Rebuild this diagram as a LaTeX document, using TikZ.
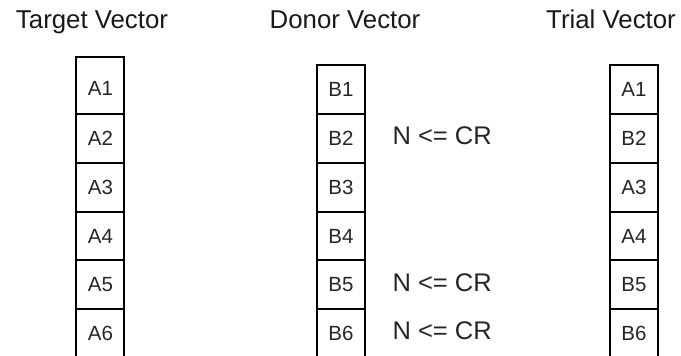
\documentclass[tikz,border=0pt]{standalone}
\usepackage{fontspec}
\setmainfont{Liberation Sans}
\begin{document}
\begin{tikzpicture}[x=1pt,y=-1pt,
  cell/.style={draw=black, line width=1.9pt, minimum width=48pt, minimum height=49pt,
    inner sep=0pt, font=\fontsize{20.5}{24}\selectfont, text=black!85},
  title/.style={anchor=base, font=\fontsize{25.8}{30}\selectfont, text=black!90},
  cond/.style={anchor=base west, font=\fontsize{25.5}{30}\selectfont, text=black!85}]
\useasboundingbox (0,0) rectangle (681,356);
\clip (0,0) rectangle (681,356);

% column headings
\node[title] (tT) at (92,28) {Target Vector};
\node[title] (tD) at (345,28) {Donor Vector};
\node[title] (tR) at (611,28) {Trial Vector};

% target vector (first cell is taller, its label sits a little low)
\node[cell, minimum height=56.5pt, text height=20pt] (a1) at (100.4,85.25) {A1};
\foreach \i/\y in {2/138.5,3/187.5,4/236,5/284.5,6/333.5}
  \node[cell] (a\i) at (100.4,\y) {A\i};

% donor vector
\foreach \i/\y in {1/89.25,2/138.5,3/187.5,4/236,5/284.5,6/333.5}
  \node[cell] (b\i) at (341,\y) {B\i};

% trial vector
\foreach \i/\t/\y in {1/A1/89.25,2/B2/138.5,3/A3/187.5,4/A4/236,5/B5/284.5,6/B6/333.5}
  \node[cell] (c\i) at (634,\y) {\t};

% crossover conditions
\node[cond] (n2) at (389,144) {N <= CR};
\node[cond] (n5) at (389,291) {N <= CR};
\node[cond] (n6) at (389,339.5) {N <= CR};
\end{tikzpicture}
\end{document}
